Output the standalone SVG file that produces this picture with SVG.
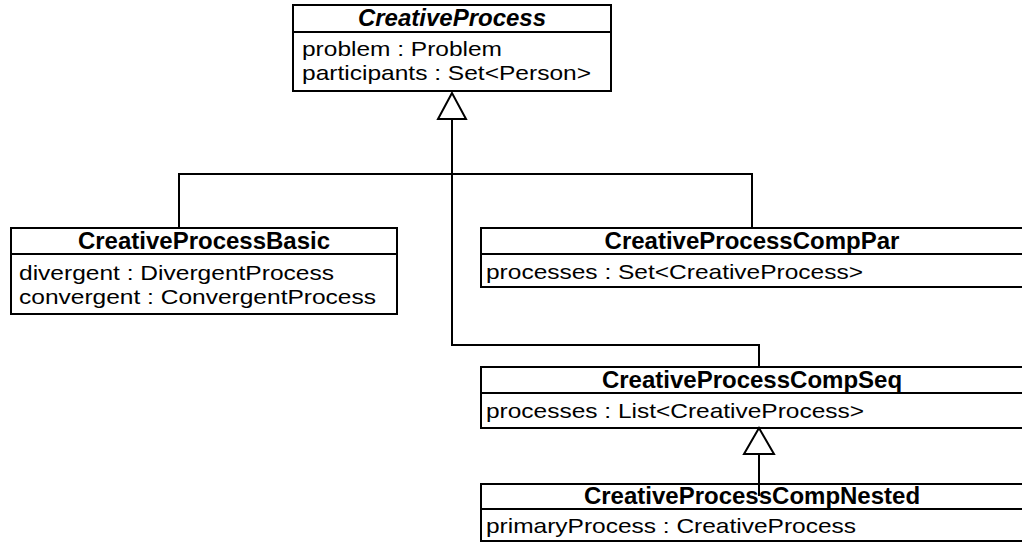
<svg xmlns="http://www.w3.org/2000/svg" width="1022" height="542" viewBox="0 0 1022 542">
  <style>
    .box { fill: #ffffff; stroke: #000000; stroke-width: 2; }
    .sep { stroke: #000000; stroke-width: 2; }
    .title { font-family: "Liberation Sans", Arial, Helvetica, sans-serif; font-size: 24px; font-weight: bold; fill: #000000; text-anchor: middle; }
    .abstract { font-style: italic; }
    .attr { font-family: "Liberation Sans", Arial, Helvetica, sans-serif; font-size: 21px; fill: #000000; }
    .edge { fill: none; stroke: #000000; stroke-width: 2; }
    .head { fill: #ffffff; stroke: #000000; stroke-width: 2; stroke-linejoin: miter; }
  </style>
  <rect width="1022" height="542" fill="#ffffff"/>

  <!-- generalization connectors -->
  <g id="connectors">
    <path class="edge" d="M452 119 V345 H759 V367"/>
    <path class="edge" d="M179 228 V174 H752 V228"/>
    <polygon class="head" points="452,93 438,119 466,119"/>
  </g>

  <!-- abstract base class -->
  <g id="CreativeProcess">
    <rect class="box" x="293" y="5" width="318" height="86"/>
    <line class="sep" x1="293" y1="32" x2="611" y2="32"/>
    <text class="title abstract" x="452" y="26">CreativeProcess</text>
    <text class="attr" x="302" y="56" textLength="200" lengthAdjust="spacingAndGlyphs">problem : Problem</text>
    <text class="attr" x="302" y="80" textLength="289" lengthAdjust="spacingAndGlyphs">participants : Set&lt;Person&gt;</text>
  </g>

  <g id="CreativeProcessBasic">
    <rect class="box" x="11" y="228" width="386" height="86"/>
    <line class="sep" x1="11" y1="254" x2="397" y2="254"/>
    <text class="title" x="204" y="249">CreativeProcessBasic</text>
    <text class="attr" x="19" y="280" textLength="315" lengthAdjust="spacingAndGlyphs">divergent : DivergentProcess</text>
    <text class="attr" x="19" y="304" textLength="357" lengthAdjust="spacingAndGlyphs">convergent : ConvergentProcess</text>
  </g>

  <g id="CreativeProcessCompPar">
    <rect class="box" x="481" y="228" width="543" height="59"/>
    <line class="sep" x1="481" y1="254" x2="1024" y2="254"/>
    <text class="title" x="752" y="249">CreativeProcessCompPar</text>
    <text class="attr" x="486" y="279" textLength="377" lengthAdjust="spacingAndGlyphs">processes : Set&lt;CreativeProcess&gt;</text>
  </g>

  <g id="CreativeProcessCompSeq">
    <rect class="box" x="481" y="367" width="543" height="61"/>
    <line class="sep" x1="481" y1="393" x2="1024" y2="393"/>
    <text class="title" x="752" y="388">CreativeProcessCompSeq</text>
    <text class="attr" x="486" y="418" textLength="378" lengthAdjust="spacingAndGlyphs">processes : List&lt;CreativeProcess&gt;</text>
  </g>

  <g id="CreativeProcessCompNested">
    <rect class="box" x="481" y="484" width="543" height="57"/>
    <line class="sep" x1="481" y1="509" x2="1024" y2="509"/>
    <text class="title" x="752" y="504">CreativeProcessCompNested</text>
    <text class="attr" x="486" y="533" textLength="370" lengthAdjust="spacingAndGlyphs">primaryProcess : CreativeProcess</text>
  </g>

  <!-- head sits on the CompSeq box edge; its stem runs into the Nested box -->
  <g id="nested-link">
    <polygon class="head" points="759,428 744,454 774,454"/>
    <line class="edge" x1="759" y1="454" x2="759" y2="496"/>
  </g>
</svg>
